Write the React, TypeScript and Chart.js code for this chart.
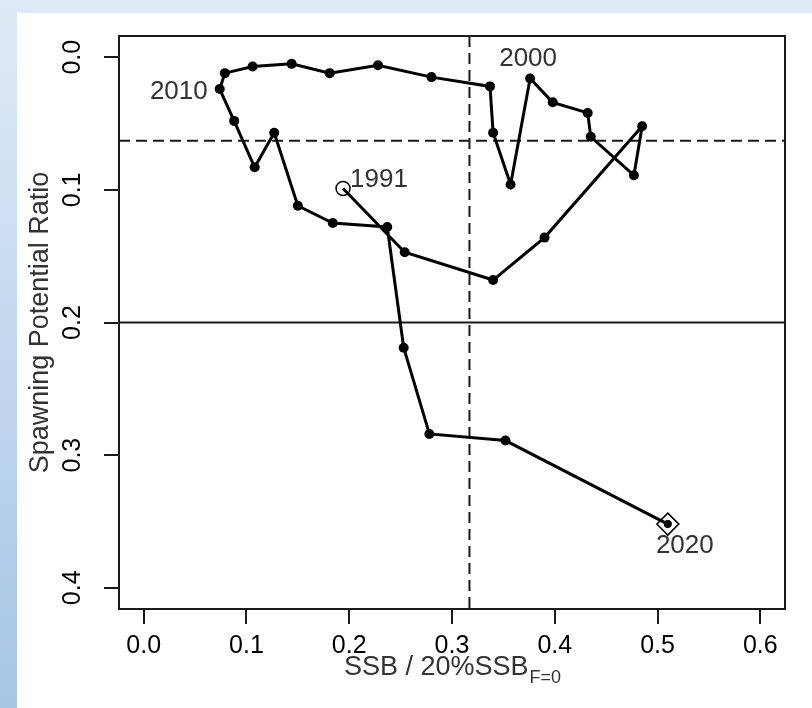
import { useEffect, useRef } from "react";
import { Chart, registerables } from "chart.js";

Chart.register(...registerables);

// ---- data ----
const years = [
  1991, 1992, 1993, 1994, 1995, 1996, 1997, 1998, 1999, 2000,
  2001, 2002, 2003, 2004, 2005, 2006, 2007, 2008, 2009, 2010,
  2011, 2012, 2013, 2014, 2015, 2016, 2017, 2018, 2019, 2020,
];
const ssbRatio = [
  0.194, 0.254, 0.340, 0.390, 0.485, 0.477, 0.435, 0.432, 0.398, 0.376,
  0.357, 0.340, 0.337, 0.280, 0.228, 0.181, 0.144, 0.106, 0.079, 0.074,
  0.088, 0.108, 0.127, 0.150, 0.184, 0.237, 0.253, 0.278, 0.352, 0.510,
];
const spr = [
  0.099, 0.147, 0.168, 0.136, 0.052, 0.089, 0.060, 0.042, 0.034, 0.016,
  0.096, 0.057, 0.022, 0.015, 0.006, 0.012, 0.005, 0.007, 0.012, 0.024,
  0.048, 0.083, 0.057, 0.112, 0.125, 0.128, 0.219, 0.284, 0.289, 0.352,
];
const xTickValues = [0, 0.1, 0.2, 0.3, 0.4, 0.5, 0.6];
const yTickValues = [0, 0.1, 0.2, 0.3, 0.4];
const sprLimit = 0.2; // solid horizontal line
const sprTargetRef = 0.063; // dashed horizontal line
const ssbRef = 0.317; // dashed vertical line
const labelledYears = [1991, 2000, 2010, 2020];
const xTitle = "SSB / 20%SSB";
const xTitleSub = "F=0";
const yTitle = "Spawning Potential Ratio";

const FONT = '"Liberation Sans", Arial, Helvetica, sans-serif';

// label placement (style only)
const labelStyle: Record<number, { dx: number; dy: number; align: CanvasTextAlign }> = {
  1991: { dx: 7, dy: -9, align: "left" },
  2000: { dx: -2, dy: -20, align: "center" },
  2010: { dx: -12, dy: 3, align: "right" },
  2020: { dx: 17, dy: 22, align: "center" },
};

const bgPlugin = {
  id: "bgPlugin",
  beforeDraw(chart: any) {
    const { ctx, width, height } = chart;
    ctx.save();
    const g = ctx.createLinearGradient(0, 0, 0, height);
    g.addColorStop(0, "#dfeaf6");
    g.addColorStop(1, "#a6c6e6");
    ctx.fillStyle = g;
    ctx.fillRect(0, 0, width, height);
    ctx.fillStyle = "#ffffff";
    ctx.fillRect(17, 13, width - 17, height - 13);
    ctx.restore();
  },
};

const refLinesPlugin = {
  id: "refLines",
  beforeDatasetsDraw(chart: any) {
    const { ctx, chartArea: a, scales } = chart;
    const xs = scales.x;
    const ys = scales.y;
    ctx.save();
    ctx.strokeStyle = "#1a1a1a";
    ctx.lineWidth = 2;
    const yl = ys.getPixelForValue(sprLimit);
    ctx.beginPath();
    ctx.moveTo(a.left, yl);
    ctx.lineTo(a.right, yl);
    ctx.stroke();
    ctx.setLineDash([11, 6]);
    const yr = ys.getPixelForValue(sprTargetRef);
    ctx.beginPath();
    ctx.moveTo(a.left, yr);
    ctx.lineTo(a.right, yr);
    ctx.stroke();
    const xr = xs.getPixelForValue(ssbRef);
    ctx.beginPath();
    ctx.moveTo(xr, a.top);
    ctx.lineTo(xr, a.bottom);
    ctx.stroke();
    ctx.restore();
  },
};

const decorPlugin = {
  id: "decor",
  afterDraw(chart: any) {
    const { ctx, chartArea: a, scales } = chart;
    const xs = scales.x;
    const ys = scales.y;
    ctx.save();
    ctx.strokeStyle = "#1a1a1a";
    ctx.lineWidth = 2;
    ctx.strokeRect(a.left, a.top, a.right - a.left, a.bottom - a.top);

    // y tick labels (rotated)
    ctx.fillStyle = "#000";
    ctx.font = `25px ${FONT}`;
    ctx.textAlign = "center";
    ctx.textBaseline = "middle";
    ys.ticks.forEach((t: any) => {
      const py = ys.getPixelForValue(t.value);
      ctx.save();
      ctx.translate(a.left - 46, py);
      ctx.rotate(-Math.PI / 2);
      ctx.fillText(Number(t.value).toFixed(1), 0, 0);
      ctx.restore();
    });

    // y title
    ctx.fillStyle = "#333";
    ctx.font = `27px ${FONT}`;
    ctx.save();
    ctx.translate(a.left - 78, (a.top + a.bottom) / 2);
    ctx.rotate(-Math.PI / 2);
    ctx.fillText(yTitle, 0, 0);
    ctx.restore();

    // x title with subscript
    ctx.font = `27px ${FONT}`;
    const mainW = ctx.measureText(xTitle).width;
    ctx.font = `18px ${FONT}`;
    const subW = ctx.measureText(xTitleSub).width;
    const cx = (a.left + a.right) / 2;
    const startX = cx - (mainW + subW) / 2;
    const ty = a.bottom + 59;
    ctx.textAlign = "left";
    ctx.font = `27px ${FONT}`;
    ctx.fillText(xTitle, startX, ty);
    ctx.font = `18px ${FONT}`;
    ctx.fillText(xTitleSub, startX + mainW + 1, ty + 10);

    // year labels
    ctx.font = `26px ${FONT}`;
    ctx.fillStyle = "#333";
    labelledYears.forEach((yr) => {
      const i = years.indexOf(yr);
      if (i < 0) return;
      const st = labelStyle[yr];
      const px = xs.getPixelForValue(ssbRatio[i]);
      const py = ys.getPixelForValue(spr[i]);
      ctx.textAlign = st.align;
      ctx.textBaseline = "middle";
      ctx.fillText(String(yr), px + st.dx, py + st.dy);
    });
    ctx.restore();
  },
};

export default function App() {
  const ref = useRef<HTMLCanvasElement | null>(null);

  useEffect(() => {
    if (!ref.current) return;
    Chart.defaults.font.family = FONT;
    const pts = years.map((_, i) => ({ x: ssbRatio[i], y: spr[i] }));
    const last = years.length - 1;
    const chart = new Chart(ref.current, {
      type: "scatter",
      data: {
        datasets: [
          {
            data: pts,
            showLine: true,
            borderColor: "#000",
            borderWidth: 3,
            tension: 0,
            pointRadius: years.map((_, i) => (i === 0 ? 0 : i === last ? 4 : 5)),
            pointBackgroundColor: "#000",
            pointBorderWidth: 0,
            clip: false,
          } as any,
          {
            data: [pts[0], pts[last]],
            showLine: false,
            pointStyle: ["circle", "rectRot"],
            pointRadius: [7, 11],
            pointBackgroundColor: ["#ffffff", "rgba(0,0,0,0)"],
            pointBorderColor: "#000",
            pointBorderWidth: 1.5,
          } as any,
        ],
      },
      options: {
        animation: false,
        responsive: false,
        events: [],
        layout: { padding: { top: 36, right: 27, left: 0, bottom: 0 } },
        plugins: { legend: { display: false }, tooltip: { enabled: false } },
        scales: {
          x: {
            type: "linear",
            min: -0.024,
            max: 0.624,
            afterBuildTicks: (s: any) => {
              s.ticks = xTickValues.map((v) => ({ value: v }));
            },
            ticks: {
              callback: (v: any) => Number(v).toFixed(1),
              font: { size: 25, family: FONT },
              color: "#000",
              padding: 7,
              maxRotation: 0,
              autoSkip: false,
            },
            grid: {
              drawOnChartArea: false,
              drawTicks: true,
              tickLength: 15,
              color: "#1a1a1a",
              lineWidth: 2,
            },
            border: { display: false },
            afterFit: (s: any) => {
              s.height = 99;
            },
          },
          y: {
            type: "linear",
            reverse: true,
            min: -0.016,
            max: 0.416,
            afterBuildTicks: (s: any) => {
              s.ticks = yTickValues.map((v) => ({ value: v }));
            },
            ticks: { display: false },
            grid: {
              drawOnChartArea: false,
              drawTicks: true,
              tickLength: 15,
              color: "#1a1a1a",
              lineWidth: 2,
            },
            border: { display: false },
            afterFit: (s: any) => {
              s.width = 119;
            },
          },
        },
      } as any,
      plugins: [bgPlugin, refLinesPlugin, decorPlugin],
    });
    return () => chart.destroy();
  }, []);

  return (
    <div style={{ position: "absolute", left: 0, top: 0, width: 812, height: 708 }}>
      <canvas ref={ref} width={812} height={708} style={{ display: "block" }} />
    </div>
  );
}
